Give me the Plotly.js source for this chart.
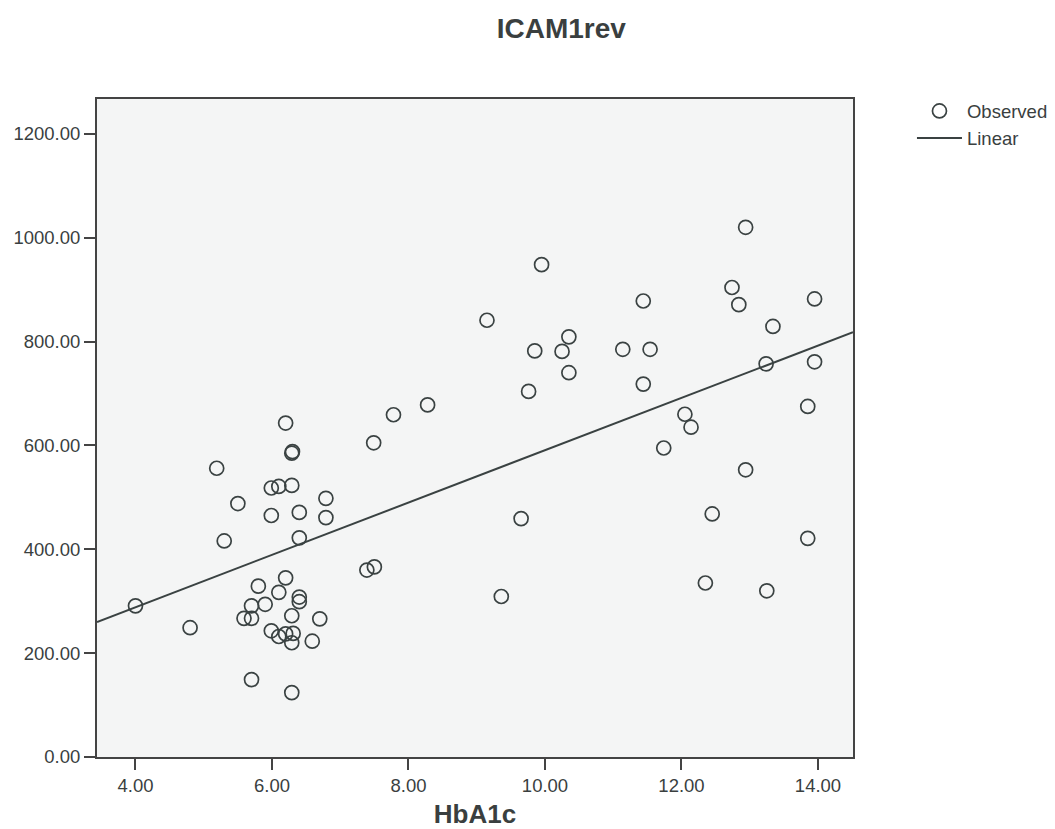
<!DOCTYPE html>
<html>
<head>
<meta charset="utf-8">
<script src="https://cdn.plot.ly/plotly-3.0.1.min.js"></script>
<style>html,body{margin:0;padding:0;background:#fff;}#chart{width:1055px;height:829px;}</style>
</head>
<body>
<div id="chart"></div>
<script>
// Observed values (HbA1c vs ICAM1rev)
const hba1c = [
  4.00, 4.80, 5.19, 5.30, 5.50, 5.59, 5.70, 5.70, 5.70, 5.80, 5.90, 5.99, 5.99, 5.99,
  6.10, 6.10, 6.10, 6.20, 6.20, 6.20, 6.29, 6.30, 6.29, 6.29, 6.29, 6.31, 6.29, 6.40,
  6.40, 6.40, 6.40, 6.59, 6.70, 6.79, 6.79, 7.39, 7.50, 7.49, 7.78, 8.28,
  9.15, 9.36, 9.65, 9.76, 9.85, 9.95, 10.25, 10.35, 10.35, 11.14, 11.44, 11.44, 11.54,
  11.74, 12.05, 12.14, 12.35, 12.45, 12.74, 12.84, 12.94, 12.94, 13.24, 13.25, 13.34,
  13.85, 13.85, 13.95, 13.95
];
const icam1rev = [
  291, 249, 556, 416, 488, 267, 267, 291, 149, 329, 294, 518, 465, 243,
  521, 317, 232, 643, 345, 237, 585, 588, 523, 272, 220, 238, 124, 471,
  422, 308, 299, 223, 266, 498, 461, 360, 366, 605, 659, 678,
  841, 309, 459, 704, 782, 948, 781, 809, 740, 785, 878, 718, 785,
  595, 660, 635, 335, 468, 904, 871, 1020, 553, 757, 320, 829,
  675, 421, 882, 761
];
// Linear fit line, read at the plot edges
const fitX = [3.436, 14.513];
const fitY = [260, 818];
const yTickVals = [0, 200, 400, 600, 800, 1000, 1200];
const xTickVals = [4, 6, 8, 10, 12, 14];

const ink = '#3a4242';
const traces = [
  {
    x: hba1c, y: icam1rev, type: 'scatter', mode: 'markers', name: 'Observed',
    marker: {symbol: 'circle-open', size: 14, color: ink, line: {width: 1.7, color: ink}}
  },
  {
    x: fitX, y: fitY, type: 'scatter', mode: 'lines', name: 'Linear',
    line: {color: ink, width: 2}
  }
];
const font = {family: 'Liberation Sans, Arial, sans-serif', color: '#3a3f3f'};
const layout = {
  width: 1055, height: 829,
  margin: {l: 97, r: 202, t: 99, b: 72, autoexpand: false},
  paper_bgcolor: '#ffffff',
  plot_bgcolor: '#f4f5f5',
  font: Object.assign({size: 18}, font),
  title: {text: '<b>ICAM1rev</b>', x: 0.532, xanchor: 'center', y: 0.966, yanchor: 'middle',
          font: Object.assign({}, font, {size: 28})},
  xaxis: {
    range: [3.436, 14.513], tickvals: xTickVals, tickformat: '.2f',
    ticks: 'outside', ticklen: 11, tickwidth: 2, tickcolor: '#444',
    showgrid: false, zeroline: false,
    showline: true, linecolor: '#444', linewidth: 2, mirror: true,
    tickfont: Object.assign({}, font, {size: 18.5}),
    title: {text: '<b>HbA1c</b>', standoff: 10, font: Object.assign({}, font, {size: 26})}
  },
  yaxis: {
    range: [0, 1267], tickvals: yTickVals, tickformat: '.2f',
    ticks: 'outside', ticklen: 11, tickwidth: 2, tickcolor: '#444',
    showgrid: false, zeroline: false,
    showline: true, linecolor: '#444', linewidth: 2, mirror: true,
    tickfont: Object.assign({}, font, {size: 18.5})
  },
  legend: {
    x: 1.078, y: 1.01, xanchor: 'left', yanchor: 'top',
    bgcolor: 'rgba(0,0,0,0)', font: Object.assign({}, font, {size: 18.5}),
    tracegroupgap: 0, itemwidth: 45
  },
  showlegend: true
};
Plotly.newPlot('chart', traces, layout, {staticPlot: true, displayModeBar: false});
</script>
</body>
</html>
